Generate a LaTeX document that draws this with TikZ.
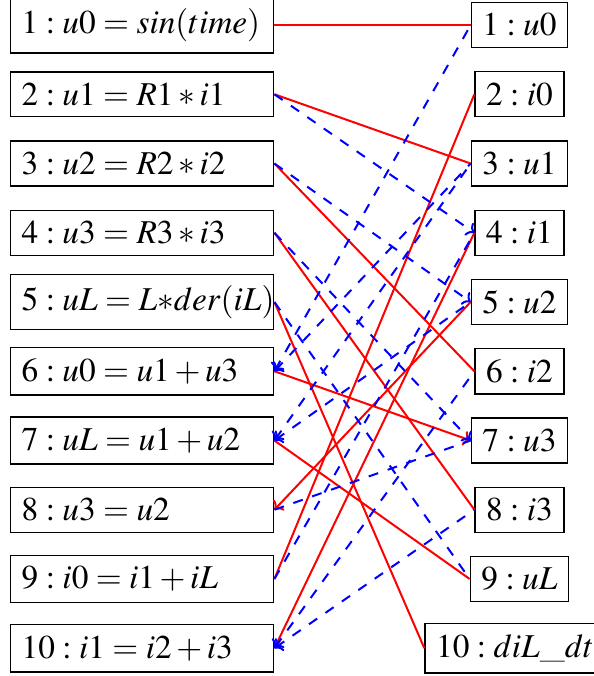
\documentclass[tikz,border=0pt]{standalone}
\usepackage{mathptmx}
\usepackage{tikz}
\usetikzlibrary{positioning,arrows.meta,calc}

\begin{document}
\begin{tikzpicture}[
    >={To[scale=0.75]},
    eqbox/.style={draw, rectangle, anchor=west, text width=2.54cm, align=left},
    varbox/.style={draw, rectangle},
    match/.style={semithick, draw=red},
    nomatch/.style={semithick, dashed, draw=blue}
  ]
    \useasboundingbox (0,0) rectangle (6.253,-7.127);
    % equations
    \node[eqbox] (e1) at (0.105,-0.264) {$1 : u0 = sin(time)$};
    \node[eqbox] (e2) at (0.105,-0.994) {$2 : u1 = R1 * i1$};
    \node[eqbox] (e3) at (0.105,-1.724) {$3 : u2 = R2 * i2$};
    \node[eqbox] (e4) at (0.105,-2.454) {$4 : u3 = R3 * i3$};
    \node[eqbox] (e5) at (0.105,-3.184) {\mbox{$5 : uL = L {*} der(iL)$}};
    \node[eqbox] (e6) at (0.105,-3.914) {$6 : u0 = u1 + u3$};
    \node[eqbox] (e7) at (0.105,-4.644) {$7 : uL = u1 + u2$};
    \node[eqbox] (e8) at (0.105,-5.374) {$8 : u3 = u2$};
    \node[eqbox] (e9) at (0.105,-6.104) {$9 : i0 = i1 + iL$};
    \node[eqbox] (e10) at (0.105,-6.834) {$10 : i1 = i2 + i3$};
    % variables
    \node[varbox] (v1) at (5.477,-0.264) {$1 : u0$};
    \node[varbox] (v2) at (5.477,-0.994) {$2 : i0$};
    \node[varbox] (v3) at (5.477,-1.724) {$3 : u1$};
    \node[varbox] (v4) at (5.477,-2.454) {$4 : i1$};
    \node[varbox] (v5) at (5.477,-3.184) {$5 : u2$};
    \node[varbox] (v6) at (5.477,-3.914) {$6 : i2$};
    \node[varbox] (v7) at (5.477,-4.644) {$7 : u3$};
    \node[varbox] (v8) at (5.477,-5.374) {$8 : i3$};
    \node[varbox] (v9) at (5.477,-6.104) {$9 : uL$};
    \node[varbox] (v10) at (5.43,-6.834) {$10 : diL\_dt$};

    % matched pairs
    \draw[match] (e1.east) -- (v1.west);
    \draw[match] (e2.east) -- (v3.west);
    \draw[match] (e3.east) -- (v6.west);
    \draw[match] (e4.east) -- (v8.west);
    \draw[match] (e5.east) -- (v10.west);
    \draw[match, ->] (e6.east) -- (v7.west);
    \draw[match] (e7.east) -- (v9.west);
    \draw[match, <-] (e8.east) -- (v5.west);
    \draw[match] (e9.east) -- (v2.west);
    \draw[match] (e10.east) -- (v4.west);
    % other incidences
    \draw[nomatch, ->] (e2.east) -- (v4.west);
    \draw[nomatch, ->] (e3.east) -- (v5.west);
    \draw[nomatch, ->] (e4.east) -- (v7.west);
    \draw[nomatch] (e5.east) -- (v9.west);
    \draw[nomatch, <-] (e6.east) -- (v1.west);
    \draw[nomatch, <-] (e6.east) -- (v3.west);
    \draw[nomatch, <-] (e7.east) -- (v3.west);
    \draw[nomatch, <-] (e7.east) -- (v5.west);
    \draw[nomatch] (e8.east) -- (v7.west);
    \draw[nomatch] (e9.east) -- (v4.west);
    \draw[nomatch, <-] (e10.east) -- (v6.west);
    \draw[nomatch, <-] (e10.east) -- (v8.west);
  \end{tikzpicture}
\end{document}
